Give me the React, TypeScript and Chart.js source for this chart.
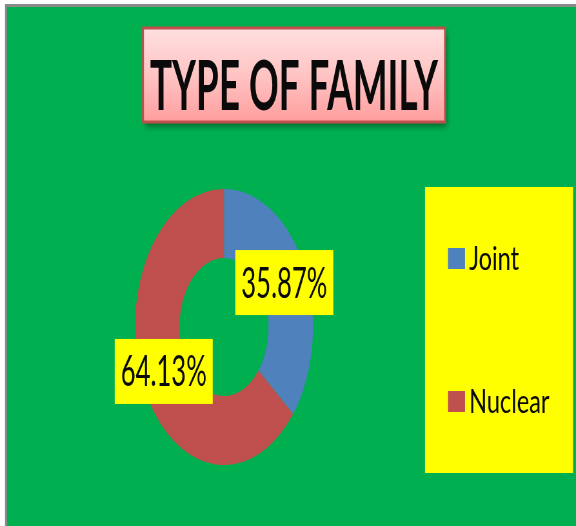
import React, { useEffect, useRef } from "react";
import { Chart, registerables } from "chart.js";

Chart.register(...registerables);

// ---- data ----
const categories = ["Joint", "Nuclear"];
const values = [35.87, 64.13];
const sliceColors = ["#4f81bd", "#c0504d"];
const titleText = "TYPE OF FAMILY";

// ---- layout (display px; canvas is drawn wide and squeezed horizontally) ----
const VIEW_W = 576;
const VIEW_H = 526;
const SQUEEZE = 0.645; // horizontal compression of the whole picture
const W = Math.round(VIEW_W / SQUEEZE);
const H = VIEW_H;
const X = (px: number) => px / SQUEEZE;

const DONUT_CX = X(224);
const DONUT_CY = 327;
const DONUT_R = 138;

const FONT = 'Lato, "Open Sans", "Liberation Sans", Arial, sans-serif';

const App: React.FC = () => {
  const ref = useRef<HTMLCanvasElement | null>(null);

  useEffect(() => {
    const canvas = ref.current;
    if (!canvas) return;

    const decor = {
      id: "decor",
      beforeDraw(chart: any) {
        const ctx = chart.ctx as CanvasRenderingContext2D;
        ctx.save();
        // frame + background
        ctx.fillStyle = "#ffffff";
        ctx.fillRect(0, 0, W, H);
        ctx.fillStyle = "#8a8a8a";
        ctx.fillRect(X(5), 4, W, H);
        ctx.fillStyle = "#00b050";
        ctx.fillRect(X(7), 7, W, H);

        // title box
        const tx0 = X(143), tx1 = X(445), ty0 = 28, ty1 = 122;
        ctx.save();
        ctx.shadowColor = "rgba(0,0,0,0.45)";
        ctx.shadowBlur = 7;
        ctx.shadowOffsetX = 3;
        ctx.shadowOffsetY = 4;
        const g = ctx.createLinearGradient(0, ty0, 0, ty1);
        g.addColorStop(0, "#ffe0e0");
        g.addColorStop(0.5, "#ffc4c4");
        g.addColorStop(1, "#ff9e9e");
        ctx.fillStyle = g;
        ctx.fillRect(tx0, ty0, tx1 - tx0, ty1 - ty0);
        ctx.restore();
        ctx.strokeStyle = "#c0504d";
        ctx.lineWidth = 3;
        ctx.strokeRect(tx0, ty0, tx1 - tx0, ty1 - ty0);

        ctx.font = `bold 68px ${FONT}`;
        ctx.fillStyle = "#0a0a0a";
        ctx.textAlign = "center";
        ctx.textBaseline = "alphabetic";
        const titleSx = X(288) / ctx.measureText(titleText).width;
        ctx.save();
        ctx.translate((tx0 + tx1) / 2, 110);
        ctx.scale(titleSx, 1);
        ctx.fillText(titleText, 0, 0);
        ctx.restore();

        // legend box
        const lx0 = X(425), lx1 = X(573), ly0 = 187, ly1 = 473;
        ctx.fillStyle = "#ffff00";
        ctx.fillRect(lx0, ly0, lx1 - lx0, ly1 - ly0);
        const n = categories.length;
        ctx.font = `32px ${FONT}`;
        ctx.textAlign = "left";
        const legSx = X(50) / ctx.measureText(categories[0]).width;
        categories.forEach((c, i) => {
          const cy = ly0 + ((ly1 - ly0) * (2 * i + 1)) / (2 * n);
          ctx.fillStyle = sliceColors[i];
          ctx.fillRect(X(448), cy - 10.5, X(465) - X(448), 21);
          ctx.fillStyle = "#0a0a0a";
          ctx.save();
          ctx.translate(X(469), cy + 11);
          ctx.scale(legSx, 1);
          ctx.fillText(c, 0, 0);
          ctx.restore();
        });
        ctx.restore();
      },
      afterDatasetsDraw(chart: any) {
        const ctx = chart.ctx as CanvasRenderingContext2D;
        const meta = chart.getDatasetMeta(0);
        ctx.save();
        ctx.font = `42px ${FONT}`;
        ctx.textAlign = "center";
        ctx.textBaseline = "alphabetic";
        const labels = values.map((v) => v.toFixed(2) + "%");
        const labSx = X(86) / ctx.measureText(labels[1]).width;
        meta.data.forEach((arc: any, i: number) => {
          const p = arc.getCenterPoint();
          const bw = X(98), bh = 65;
          ctx.fillStyle = "#ffff00";
          ctx.fillRect(p.x - bw / 2, p.y - bh / 2, bw, bh);
          ctx.fillStyle = "#0a0a0a";
          ctx.save();
          ctx.translate(p.x, p.y + 15);
          ctx.scale(labSx, 1);
          ctx.fillText(labels[i], 0, 0);
          ctx.restore();
        });
        ctx.restore();
      },
    };

    const chart = new Chart(canvas, {
      type: "doughnut",
      data: {
        labels: categories,
        datasets: [
          {
            data: values,
            backgroundColor: sliceColors,
            borderWidth: 0,
          },
        ],
      },
      options: {
        animation: false,
        responsive: false,
        devicePixelRatio: 1,
        cutout: "50%",
        layout: {
          padding: {
            left: DONUT_CX - DONUT_R,
            right: W - (DONUT_CX + DONUT_R),
            top: DONUT_CY - DONUT_R,
            bottom: H - (DONUT_CY + DONUT_R),
          },
        },
        plugins: {
          legend: { display: false },
          tooltip: { enabled: false },
          title: { display: false },
        },
      },
      plugins: [decor],
    });
    return () => chart.destroy();
  }, []);

  return (
    <div style={{ position: "absolute", left: 0, top: 0, width: VIEW_W, height: VIEW_H }}>
      <canvas
        ref={ref}
        width={W}
        height={H}
        style={{ width: VIEW_W, height: VIEW_H, display: "block" }}
      />
    </div>
  );
};

export default App;
